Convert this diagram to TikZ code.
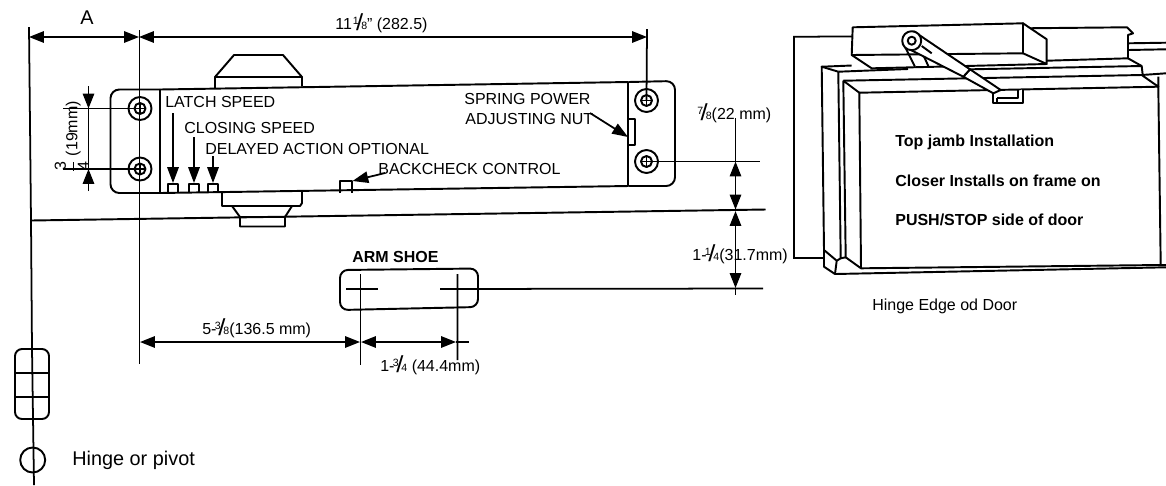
\documentclass[tikz,border=0pt]{standalone}
\usepackage{fontspec}
\usepackage{graphicx}
\setmainfont{Liberation Sans}
\usetikzlibrary{arrows.meta}
\newcommand{\frc}[2]{\raisebox{.55ex}{\scalebox{.66}{#1}}\kern-.16em\raisebox{-.15ex}{\scalebox{1.6}[1.45]{/}}\kern-.12em\scalebox{.66}{#2}}
\tikzset{
  part/.style={line width=1.1pt, line join=round},
  dim/.style={line width=1pt, {Triangle[length=8.5pt,width=6.5pt]}-{Triangle[length=8.5pt,width=6.5pt]}},
  tipend/.style={line width=1pt, -{Triangle[length=8.5pt,width=6.5pt]}},
  callout/.style={line width=1pt, -{Triangle[length=9pt,width=6.5pt]}},
  extline/.style={line width=1pt},
  lbl/.style={anchor=west, inner sep=0pt, font=\fontsize{9.1}{11}\selectfont},
  lblbig/.style={lbl, font=\fontsize{11.3}{13}\selectfont},
  lblbold/.style={lbl, font=\fontsize{9.1}{11}\selectfont\bfseries}
}
\begin{document}
\begin{tikzpicture}[x=.02cm,y=-.02cm]
  \useasboundingbox (0,0) rectangle (1166,485);
  % plan view
  \draw[part, rounded corners=5pt] (160,89.5) -- (110.5,89.5) -- (110.5,193) -- (160,193);
  \draw[part] (160,89.5) -- (628.3,82) (160,193) -- (628.3,186);
  \draw[part, rounded corners=5pt] (628.3,82) -- (675,81) -- (675,186) -- (628.3,186);
  \draw[part] (160,89.5) -- (160,193) (628.3,82) -- (628.3,186);
  \draw[part] (215,88.5) -- (215,77) -- (234,55) -- (283,55) -- (302,77) -- (302,86.5) (215,77) -- (302,77);
  \draw[part] (222,192) -- (222,206) -- (300,206) -- (302,203) -- (302,192);
  \draw[part] (232,206) -- (240,217) -- (240,226.5) -- (285,226.5) -- (285,217) -- (292,206) (240,217) -- (285,217);
  \foreach \sx/\sy/\sn in {140/108.5/a, 140/169/b, 646.5/100.5/c, 646.5/161.5/d} {
    \draw[part] (\sx,\sy) circle [radius=11.5];
    \draw[part] (\sx,\sy) circle [radius=5.5];
    \draw[extline] (\sx-5.5,\sy) -- (\sx+5.5,\sy) (\sx,\sy-5.5) -- (\sx,\sy+5.5);
    \coordinate (screw\sn) at (\sx,\sy);
  }
  \foreach \bx/\by/\bw in {168/184/10, 189/184/10, 208/184/10, 340/181/12} {
    \draw[part] (\bx,193) -- (\bx,\by) -- (\bx+\bw,\by) -- (\bx+\bw,193);
  }
  \draw[part] (628.3,119) -- (635,119) -- (635,145) -- (628.3,145);
  % datum lines
  \draw[extline] (29,27) -- (31,220) -- (32,349) -- (34,485);
  \draw[extline] (139.5,30) -- (139.5,364);
  \draw[extline] (647,29) -- (screwc);
  \draw[part] (31,220.5) -- (765.5,209.5);
  \draw[extline] (63,108.5) -- (screwa);
  \draw[extline] (63,169) -- (screwb);
  \draw[extline] (screwd) -- (760,161.5);
  % dimensions
  \coordinate (aL) at (29,37);
  \coordinate (aR) at (139,37);
  \coordinate (wR) at (647,37);
  \draw[dim] (aL) -- (aR);
  \draw[dim] (aR) -- (wR);
  \draw[tipend] (88.5,86) -- (88.5,108.5);
  \draw[extline] (88.5,108.5) -- (88.5,169);
  \draw[tipend] (88.5,191) -- (88.5,169);
  \draw[extline] (735.5,118) -- (735.5,161.5);
  \draw[dim] (735.5,161.5) -- (735.5,209.5);
  \draw[dim] (735.5,211) -- (735.5,288);
  \draw[extline] (735.5,288) -- (735.5,295);
  \draw[dim] (140,342) -- (360,342);
  \draw[dim] (361,342) -- (456,342);
  \draw[extline] (456,342) -- (469,342);
  % callouts
  \draw[callout] (173,113) -- (173,183);
  \draw[callout] (194,137) -- (194,183);
  \draw[callout] (213,156) -- (213,183);
  \draw[callout] (385,173) -- (352.5,181);
  \draw[callout] (590,113) -- (628,137);
  % arm shoe
  \draw[part, rounded corners=4.5pt] (340,270) -- (478,268.5) -- (478,307) -- (340,310) -- cycle;
  \draw[extline] (360.5,274) -- (360.5,365) (346,289) -- (378,289);
  \draw[extline] (457.5,274) -- (457.5,360) (440,289) -- (763,288.5);
  % hinge
  \draw[part, rounded corners=4pt] (15,349) rectangle (49,419);
  \draw[extline] (15,373) -- (49,373) (15,397) -- (49,397);
  \draw[part] (32.7,460) circle [radius=12.5];
  % door view
  \draw[extline] (852.7,36.5) -- (794,36.7) -- (794,258) -- (823.5,258);
  \draw[part] (1023,28.3) -- (1127,27.3) -- (1133,33.3) -- (1128,35) -- (1128,58.3) -- (1046.7,60.7);
  \draw[part] (1128,43.3) -- (1166,42.7) (1128,50) -- (1166,49.3);
  \draw[part] (851.7,55) -- (871.7,68.3) -- (1046.7,64);
  \draw[part] (1128,58.3) -- (1141.7,66) -- (1142.7,75) (970,69.3) -- (1141.7,66) (1141.7,75) -- (1166,73.3);
  \draw[part] (838.3,71.7) -- (821.7,66.7) -- (824,250) -- (824,266.7) -- (835,274) -- (1166,267.3);
  \draw[part] (821.7,66.7) -- (851.7,65.5);
  \draw[part] (838.3,71.7) -- (908,69) (838.3,71.7) -- (840.7,258.3) -- (836.7,260.7) -- (824,250) (836.7,260.7) -- (835,274);
  \draw[part] (840.7,258.3) -- (845.7,257.3);
  \draw[part, fill=white] (852.7,27.3) -- (1023,23.3) -- (1023,53.3) -- (851.7,55) -- cycle;
  \draw[part, fill=white] (1023,23.3) -- (1046.7,39.3) -- (1046.7,64) -- (1023,53.3) -- cycle;
  \draw[part] (843.3,80.7) -- (1141.7,75) -- (1158.3,86.7) -- (1158.3,76.7);
  \draw[part] (843.3,80.7) -- (859.3,92.7) (843.3,80.7) -- (845.7,257.3) -- (861,268.3);
  \draw[part] (859.3,92.7) -- (1158.3,86.7) -- (1160.7,265) -- (861,268.3) -- cycle;
  \draw[part] (1160.7,265) -- (1166,265);
  \draw[part] (905,46.7) -- (915,66.7) (923.3,55) -- (928.3,66);
  \draw[part, fill=white] (997,98.3) -- (997,102.7) -- (993.3,102.7) -- (993.3,93.3) (1022.7,89.3) -- (1022.7,102.7) -- (993.3,102.7);
  \draw[part] (997,98.3) -- (1018,98.3) -- (1018,89.7);
  \draw[part, fill=white] (970,69.3) -- (1000.7,90) -- (993.3,93.3) -- (963.3,76.7) -- cycle;
  \draw[part, fill=white] (914,31.5) -- (970,69.3) -- (963.3,76.7) -- (905,47) -- cycle;
  \draw[part, fill=white] (911.7,40.7) circle [radius=9.5];
  \draw[part, fill=white] (911.7,40.7) circle [radius=4];
  \draw[part] (921.7,46) -- (931.7,53.3);
  % labels
  \node[lblbig] (dimA) at (80,18) {A};
  \node[lbl] (dimWidth) at (335,23) {11\kern.05em\frc{1}{8}" (282.5)};
  \node[lbl, rotate=90, anchor=west] (dimMount) at (73.5,171) {\setlength{\tabcolsep}{0pt}\begin{tabular}{c}3\\[.1em]\hline\noalign{\vskip.1em}4\end{tabular}\kern.35em(19mm)};
  \node[lbl] (latch) at (165,102) {LATCH SPEED};
  \node[lbl] (closing) at (184,128) {CLOSING SPEED};
  \node[lbl] (delayed) at (205,149) {DELAYED ACTION OPTIONAL};
  \node[lbl] (backcheck) at (378,169) {BACKCHECK CONTROL};
  \node[lbl] (spring) at (464,99) {SPRING POWER};
  \node[lbl] (adjust) at (465,119) {ADJUSTING NUT};
  \node[lbl] (dimScrew) at (697,113) {\frc{7}{8}(22 mm)};
  \node[lbl] (dimShoe) at (692,254) {1-\kern-.1em\frc{1}{4}(31.7mm)};
  \node[lblbold] (shoe) at (352,257) {ARM SHOE};
  \node[lbl] (dimOffset) at (202,328) {5-\kern-.1em\frc{3}{8}(136.5 mm)};
  \node[lbl] (dimHoles) at (380,365) {1-\kern-.1em\frc{3}{4} (44.4mm)};
  \node[lblbig] (pivot) at (72,460) {Hinge or pivot};
  \node[lblbold] (jamb) at (895,142) {Top jamb Installation};
  \node[lblbold] (frame) at (895,181) {Closer Installs on frame on};
  \node[lblbold] (side) at (895,220) {PUSH/STOP side of door};
  \node[lbl] (edge) at (872,306) {Hinge Edge od Door};
\end{tikzpicture}
\end{document}
